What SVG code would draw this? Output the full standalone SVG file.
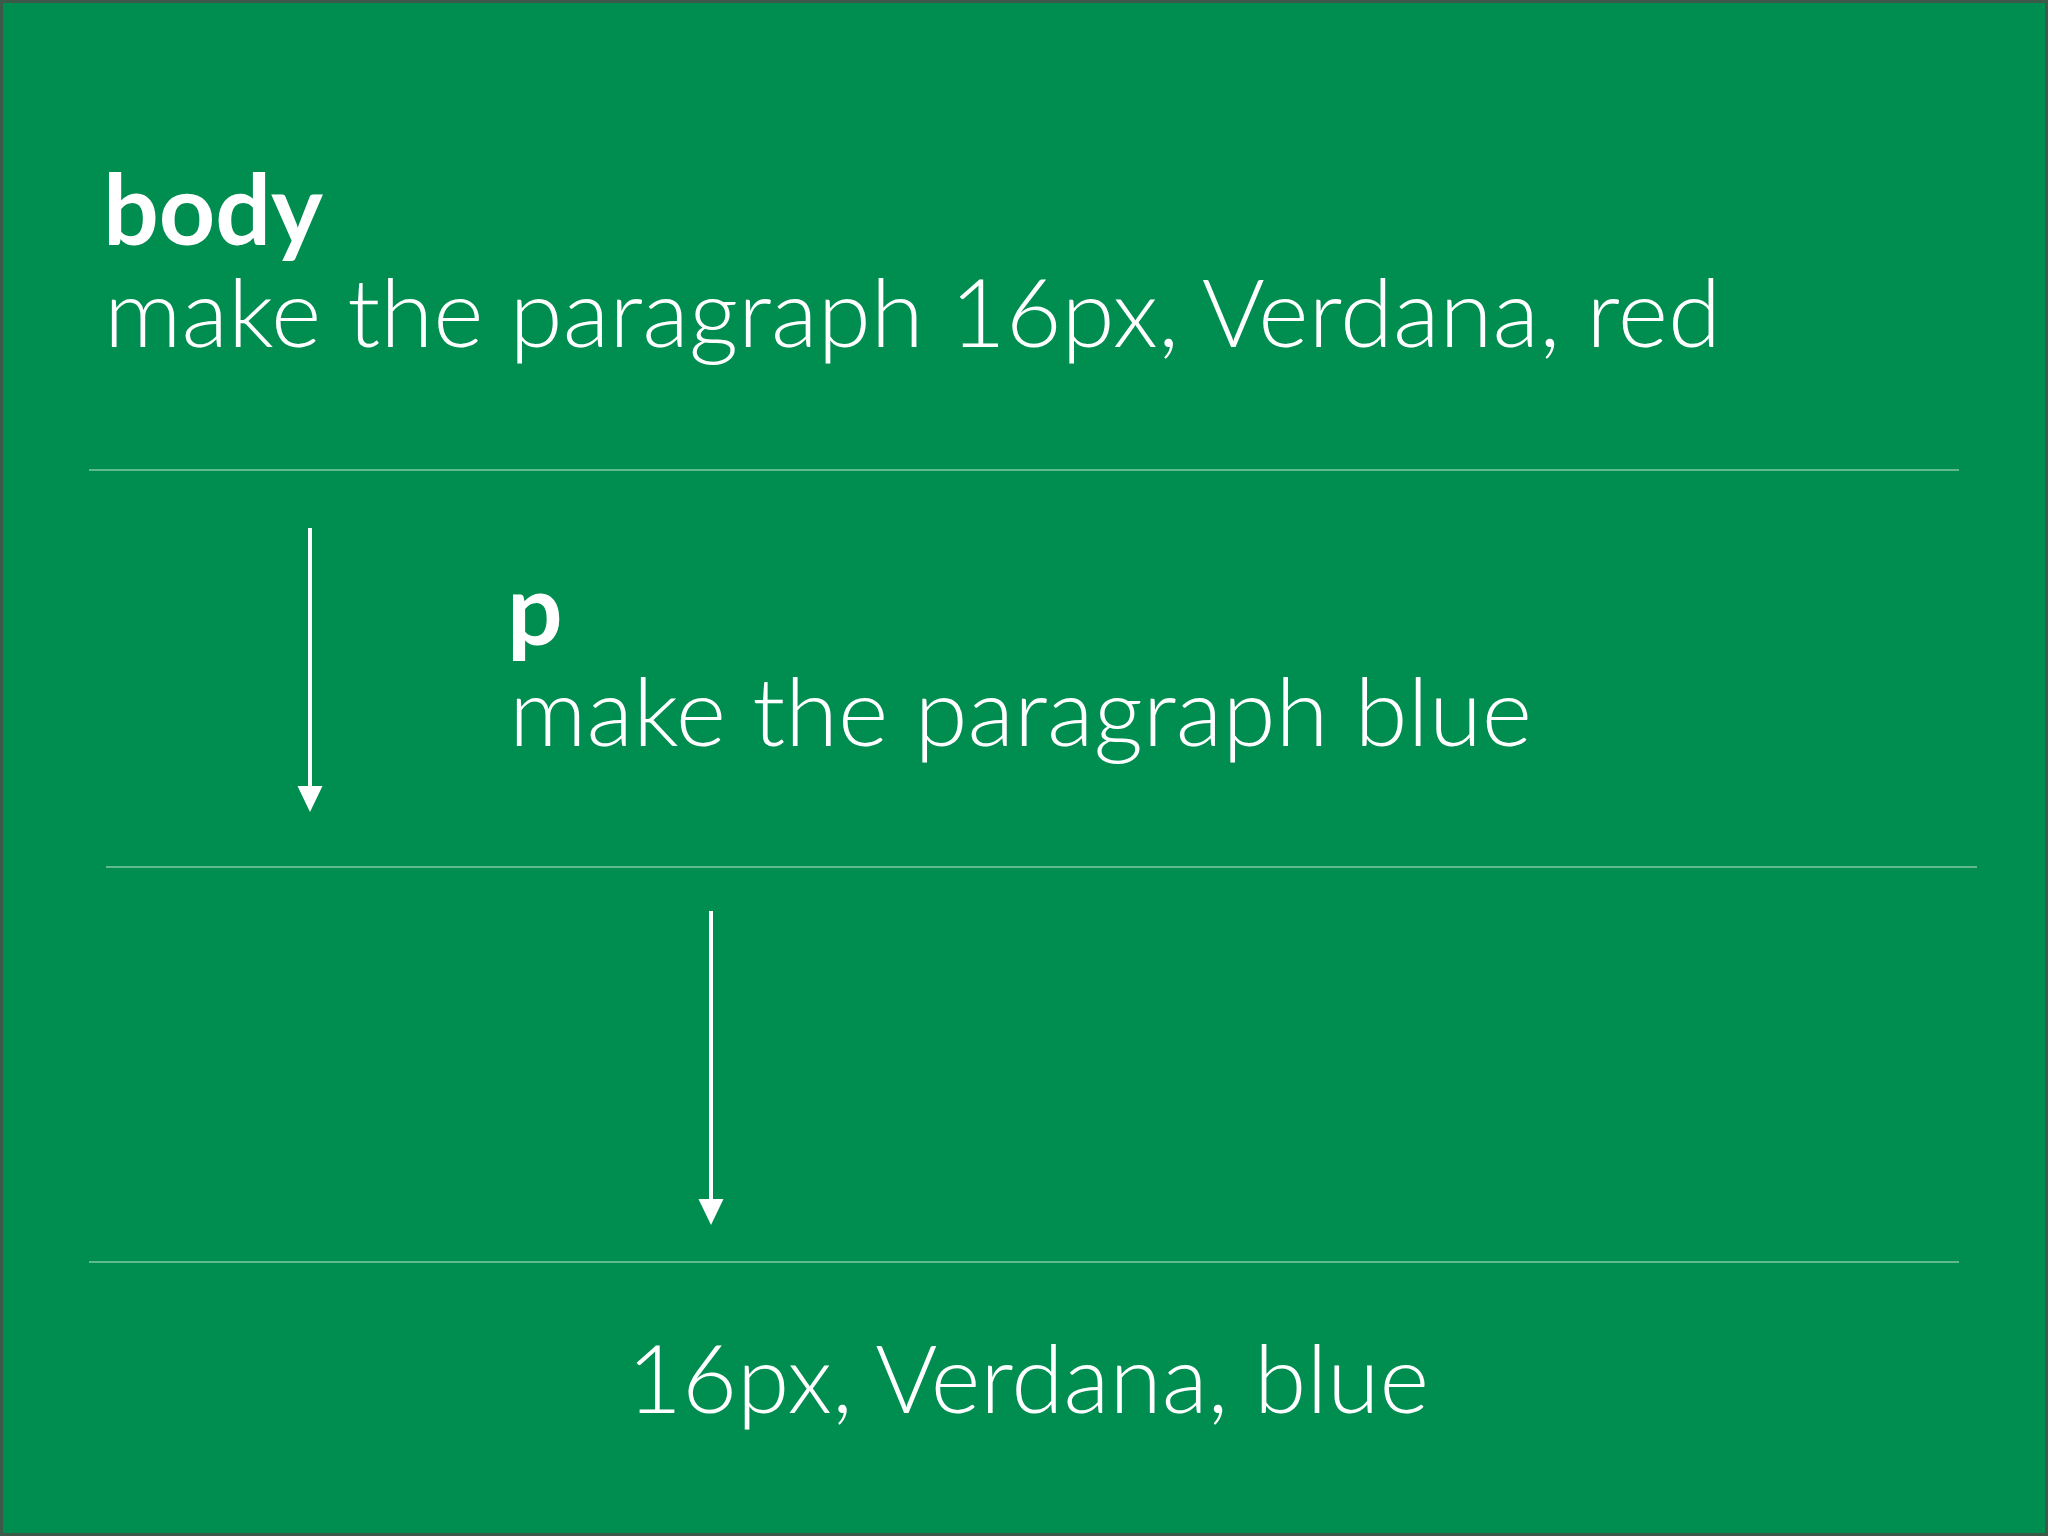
<svg xmlns="http://www.w3.org/2000/svg" width="2048" height="1536" viewBox="0 0 2048 1536">
<style>
.bg{fill:#008d50;stroke:#3b5a49;stroke-width:3}
.rule{stroke:#5fbb8c;stroke-width:2;fill:none}
.arrow{stroke:#ffffff;stroke-width:4;fill:none}
.t{font-family:Lato,"Open Sans","Liberation Sans",sans-serif;fill:#ffffff;font-size:95px;font-weight:300}
.b{font-weight:700;font-size:98px}
</style>
<defs>
<marker id="ah" markerUnits="userSpaceOnUse" markerWidth="28" markerHeight="28" viewBox="0 0 28 28" refX="1" refY="14" orient="auto">
<path d="M0,1.5 L26,14 L0,26.5 Z" fill="#ffffff"/>
</marker>
</defs>
<rect class="bg" x="1.5" y="1.5" width="2045" height="1533"/>
<g id="rules">
<line class="rule" x1="89" y1="470" x2="1959" y2="470"/>
<line class="rule" x1="106" y1="867" x2="1977" y2="867"/>
<line class="rule" x1="89" y1="1262" x2="1959" y2="1262"/>
</g>
<g id="body">
<text class="t b" x="103" y="245" textLength="220" lengthAdjust="spacingAndGlyphs">body</text>
<text class="t" x="104" y="347" textLength="1617" lengthAdjust="spacingAndGlyphs">make the paragraph 16px, Verdana, red</text>
</g>
<g id="p">
<text class="t b" x="507" y="645">p</text>
<text class="t" x="509" y="746" textLength="1023" lengthAdjust="spacingAndGlyphs">make the paragraph blue</text>
</g>
<g id="result">
<text class="t" x="627" y="1413" textLength="802" lengthAdjust="spacingAndGlyphs">16px, Verdana, blue</text>
</g>
<g id="connectors">
<line class="arrow" x1="310" y1="528" x2="310" y2="787" marker-end="url(#ah)"/>
<line class="arrow" x1="711" y1="911" x2="711" y2="1200" marker-end="url(#ah)"/>
</g>
</svg>
